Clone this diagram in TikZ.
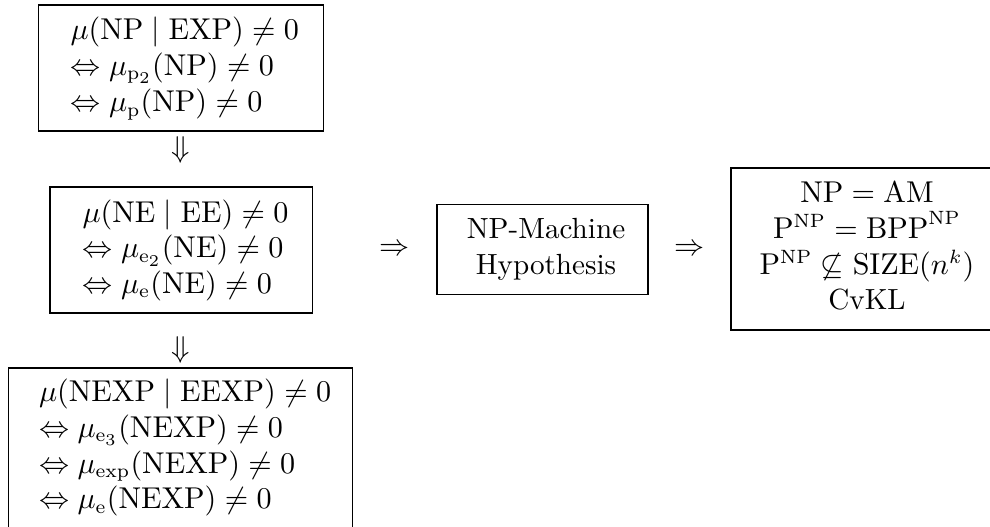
\documentclass[tikz,border=0pt]{standalone}
\usepackage{amsmath,amssymb}
\DeclareMathSizes{10.6}{10.6}{7.5}{5.8}
\begin{document}
\begin{tikzpicture}[x=0.3636pt,y=-0.3636pt,
  txt/.style={font={\fontsize{10.6pt}{12.9pt}\selectfont}},
  frame/.style={draw,line width=0.4pt,inner sep=0pt},
  lline/.style={txt,inner sep=0pt,anchor=base west},
  cline/.style={txt,inner sep=0pt,anchor=base},
  glyph/.style={txt,inner sep=0pt}]
\useasboundingbox (0,0) rectangle (990,527);
\clip (0,0) rectangle (990,527);
% box 1
\node[frame,minimum width=103.3pt,minimum height=45.8pt] (b1) at (181,68) {};
\node[lline] (b1a) at (70,39.3)  {$\mu(\mathrm{NP}\mid\mathrm{EXP})\neq 0$};
\node[lline] (b1b) at (70,75.3)  {$\Leftrightarrow \mu_{\mathrm{p}_2}(\mathrm{NP})\neq 0$};
\node[lline] (b1c) at (70,111.5) {$\Leftrightarrow \mu_{\mathrm{p}}(\mathrm{NP})\neq 0$};
\node[glyph] (d1) at (181,149.5) {$\Downarrow$};
% box 2
\node[frame,minimum width=95.3pt,minimum height=45.8pt] (b2) at (181,250) {};
\node[lline] (b2a) at (82,222.3) {$\mu(\mathrm{NE}\mid\mathrm{EE})\neq 0$};
\node[lline] (b2b) at (82,257.8) {$\Leftrightarrow \mu_{\mathrm{e}_2}(\mathrm{NE})\neq 0$};
\node[lline] (b2c) at (82,293.3) {$\Leftrightarrow \mu_{\mathrm{e}}(\mathrm{NE})\neq 0$};
\node[glyph] (d2) at (181,349.5) {$\Downarrow$};
% box 3
\node[frame,minimum width=125.4pt,minimum height=59.6pt] (b3) at (180.5,450) {};
\node[lline] (b3a) at (38.5,401.7) {$\mu(\mathrm{NEXP}\mid\mathrm{EEXP})\neq 0$};
\node[lline] (b3b) at (38.5,437.3) {$\Leftrightarrow \mu_{\mathrm{e}_3}(\mathrm{NEXP})\neq 0$};
\node[lline] (b3c) at (38.5,473.0) {$\Leftrightarrow \mu_{\mathrm{exp}}(\mathrm{NEXP})\neq 0$};
\node[lline] (b3d) at (38.5,508.5) {$\Leftrightarrow \mu_{\mathrm{e}}(\mathrm{NEXP})\neq 0$};
% arrows
\node[glyph] (r1) at (395,250) {$\Rightarrow$};
\node[glyph] (r2) at (690,250) {$\Rightarrow$};
% NP-machine box
\node[frame,minimum width=76.7pt,minimum height=32.4pt] (m) at (542.5,249.5) {};
\node[cline] (ma) at (546,239) {NP-Machine};
\node[cline] (mb) at (546,275) {Hypothesis};
% consequences box
\node[frame,minimum width=98.9pt,minimum height=58.9pt] (c) at (867,249) {};
\node[cline] (ca) at (867,203) {$\mathrm{NP}=\mathrm{AM}$};
\node[cline] (cb) at (867,238.5) {$\mathrm{P}^{\mathrm{NP}}=\mathrm{BPP}^{\mathrm{NP}}$};
\node[cline] (cc) at (867,274.5) {$\mathrm{P}^{\mathrm{NP}}\not\subseteq\mathrm{SIZE}(n^k)$};
\node[cline] (cd) at (867,310) {CvKL};
\end{tikzpicture}
\end{document}
